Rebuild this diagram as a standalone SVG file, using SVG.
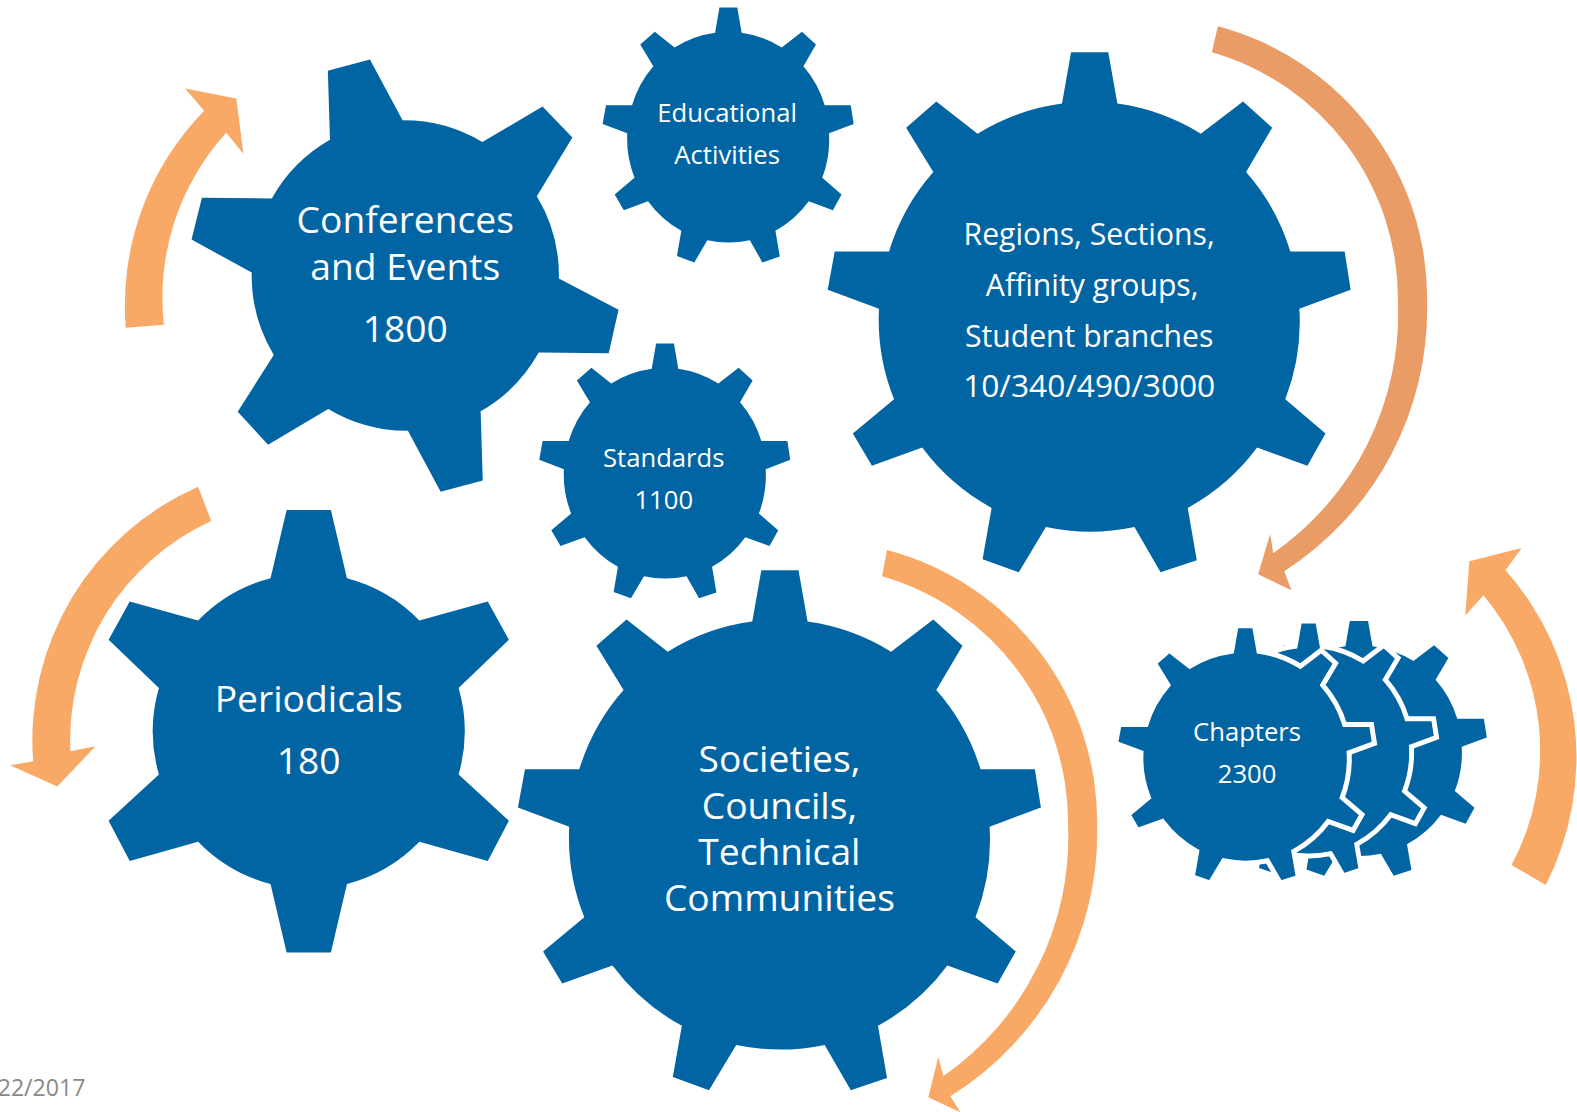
<svg xmlns="http://www.w3.org/2000/svg" width="1577" height="1112" viewBox="0 0 1577 1112">
<style>
.b{fill:#0265A3}
.o{fill:#F9A966}
.d{fill:#E99C65}
.w{stroke:#fff;stroke-width:10;stroke-linejoin:miter}
text{font-family:"Open Sans","Noto Sans","Liberation Sans",sans-serif;fill:#fff;text-anchor:middle}
.l{font-size:37px}
.m{font-size:30px}
.n{font-size:31.5px}
.s{font-size:25.5px}
.date{font-size:23px;fill:#898989;text-anchor:end}
</style>
<defs>
<path id="g9" d="M-18,-258L19,-258L28,-207A213,213 0 0 1 111,-177L153,-209L182,-183L156,-139A213,213 0 0 1 200,-60L254,-60L260,-22L209,-3A213,213 0 0 1 195,87L235,121L217,153L167,135A213,213 0 0 1 98,195L107,247L71,259L45,214A213,213 0 0 1 -43,214L-70,259L-106,246L-97,195A213,213 0 0 1 -166,135L-216,153L-235,121L-194,87A213,213 0 0 1 -209,-3L-260,-22L-253,-60L-199,-60A213,213 0 0 1 -155,-139L-182,-183L-152,-209L-111,-177A213,213 0 0 1 -27,-207Z"/>
<path id="g6" d="M-22,-220L22,-220L38,-152A155,155 0 0 1 110,-110L178,-129L199,-91L149,-43A155,155 0 0 1 149,43L199,89L178,129L110,110A155,155 0 0 1 38,152L22,220L-22,220L-38,152A155,155 0 0 1 -110,110L-178,129L-199,89L-149,43A155,155 0 0 1 -149,-43L-199,-91L-178,-129L-110,-110A155,155 0 0 1 -38,-152Z"/>
</defs>
<g transform="scale(1.0057)">
<g id="connectors">
<path class="o" d="M125,326A278,278 0 0 1 203,110L184,88L235,98L242,153L225,132A243,243 0 0 0 163,323Z"/>
<path class="d" d="M1211,26A280,280 0 0 1 1419,300A310,310 0 0 1 1277,568L1284,587L1251,571L1263,531L1266,550A290,290 0 0 0 1390,300A255,255 0 0 0 1205,52Z"/>
<path class="o" d="M197,484A275,275 0 0 0 33,757L10,761L57,782L95,742L70,747A240,240 0 0 1 210,518Z"/>
<path class="o" d="M882,547A280,280 0 0 1 1091,820A310,310 0 0 1 945,1090L955,1106L923,1091L933,1051L938,1070A290,290 0 0 0 1062,820A255,255 0 0 0 877,573Z"/>
<path class="o" d="M1537,880A280,280 0 0 0 1497,567L1513,545L1461,558L1457,612L1475,592A240,240 0 0 1 1503,860Z"/>
</g>
<g id="conferences"><use href="#g6" class="b" transform="translate(403,274) rotate(-15) scale(.985)"/><text class="l" x="403" y="232">Conferences</text><text class="l" x="403" y="278">and Events</text><text class="l" x="403" y="340">1800</text></g>
<g id="educational"><use href="#g9" class="b" transform="translate(724,134) scale(.48,.49)"/><text class="s" x="723" y="121">Educational</text><text class="s" x="723" y="163">Activities</text></g>
<g id="regions"><use href="#g9" class="b" transform="translate(1083,310)"/><text class="m" x="1083" y="244">Regions, Sections,</text><text class="m" x="1086" y="294">Affinity groups,</text><text class="m" x="1083" y="345">Student branches</text><text class="n" x="1083" y="395">10/340/490/3000</text></g>
<g id="standards"><use href="#g9" class="b" transform="translate(661,468) scale(.48,.49)"/><text class="s" x="660" y="464">Standards</text><text class="s" x="660" y="506">1100</text></g>
<g id="periodicals"><use href="#g6" class="b" transform="translate(307,727)"/><text class="l" x="307" y="708">Periodicals</text><text class="l" x="307" y="770">180</text></g>
<g id="societies"><use href="#g9" class="b" transform="translate(775,825)"/><text class="l" x="775" y="768">Societies,</text><text class="l" x="775" y="814">Councils,</text><text class="l" x="775" y="860">Technical</text><text class="l" x="775" y="906">Communities</text></g>
<g id="chapters">
<use href="#g9" class="b" transform="translate(1351,744) scale(.49)"/>
<use href="#g9" class="b w" transform="translate(1301,744) scale(.49)"/>
<use href="#g9" class="b w" transform="translate(1238,750) scale(.495)"/>
<text class="s" x="1240" y="737">Chapters</text><text class="s" x="1240" y="779">2300</text></g>
<text class="date" x="85" y="1090">22/2017</text>
</g>
</svg>
